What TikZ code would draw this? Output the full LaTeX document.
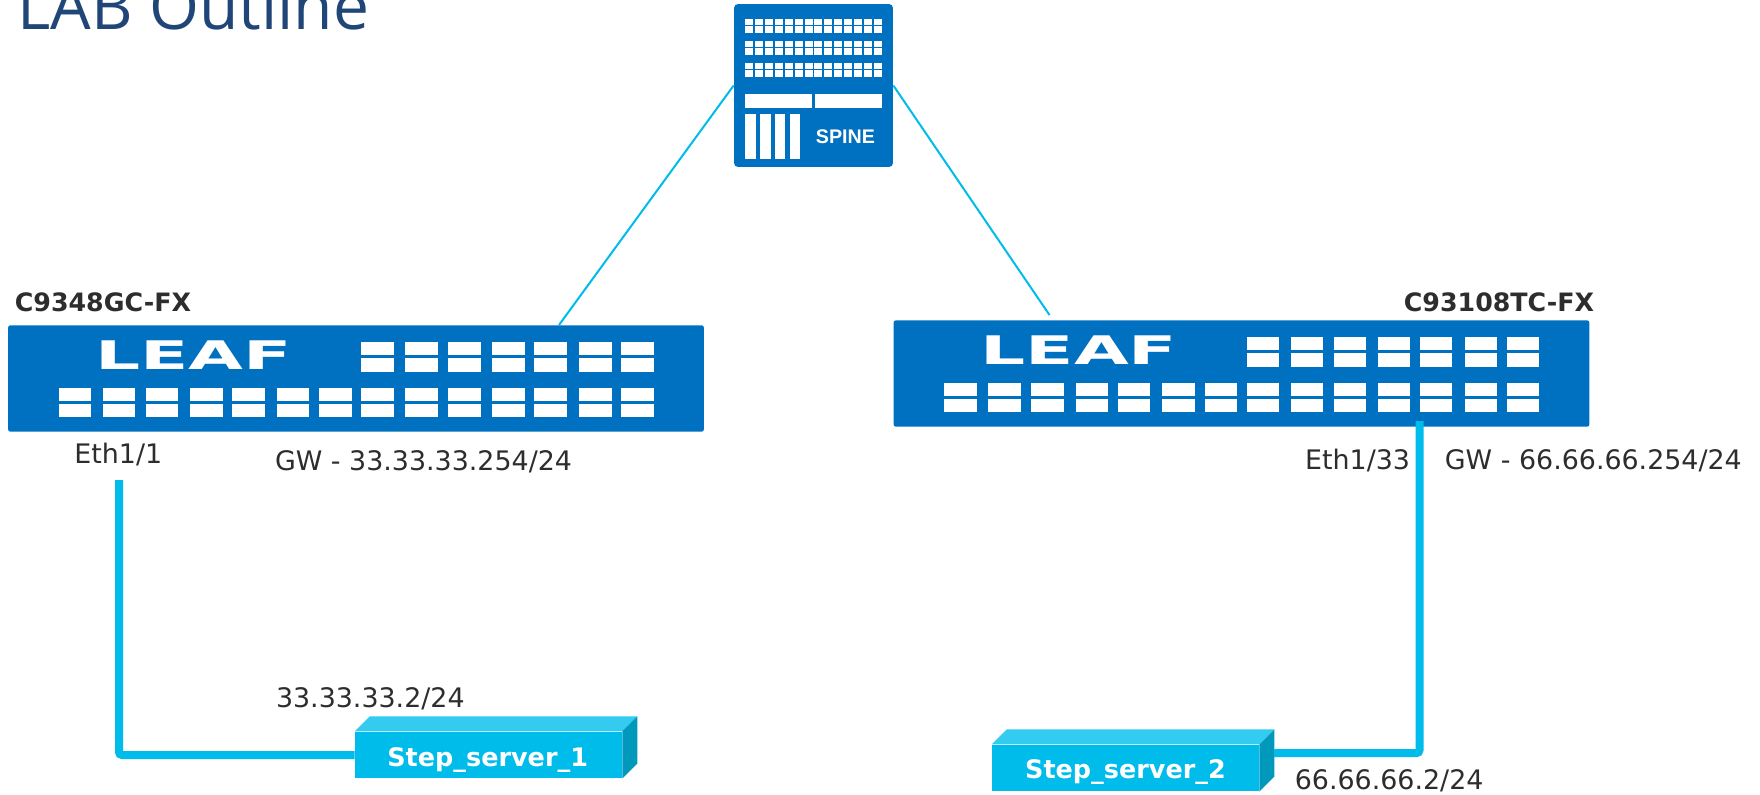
\documentclass[tikz,border=0pt]{standalone}
\usepackage{fontspec}
\usepackage{xcolor}
\setmainfont{DejaVu Sans}
\newfontfamily\titlefont{Open Sans}
\newfontfamily\spinefont{Liberation Sans}

\definecolor{ciscoblue}{HTML}{0070C0}
\definecolor{linkcyan}{HTML}{00BCEB}
\definecolor{servertop}{HTML}{33CBF0}
\definecolor{serverside}{HTML}{0099BC}
\definecolor{titleblue}{HTML}{1F4676}
\definecolor{labelgray}{HTML}{2D2D2D}

\tikzset{
	thinlink/.style={draw=linkcyan, line width=0.04cm},
	thicklink/.style={draw=linkcyan, line width=0.16cm, rounded corners=0.06cm},
	label/.style={anchor=base west, inner sep=0pt, text=labelgray, font=\fontsize{15.3}{18}\selectfont},
	model/.style={anchor=base west, inner sep=0pt, text=labelgray, font=\fontsize{14.4}{18}\selectfont\bfseries},
	leafbox/.style={fill=ciscoblue, inner sep=0pt, rounded corners=0.05cm, minimum width=13.92cm, minimum height=2.13cm},
	serverbox/.style={fill=linkcyan, inner sep=0pt, text=white, minimum width=5.34cm, minimum height=0.93cm, font=\fontsize{14.5}{18}\selectfont\bfseries},
}

\begin{document}
\begin{tikzpicture}[x=0.02cm, y=-0.02cm]
	\useasboundingbox (0, 0) rectangle (1760, 794);

	\node[anchor=base west, inner sep=0pt, text=titleblue, font=\fontsize{36.5}{40}\titlefont] (title) at (17, 30) {LAB Outline};

	% Thin links go under the boxes
	\node[fill=ciscoblue, inner sep=0pt, rounded corners=0.08cm, minimum width=3.18cm, minimum height=3.26cm] (spine) at (813.5, 85.5) {};
	\coordinate (leaf1top) at (559, 325);
	\coordinate (leaf2top) at (1049.5, 315);
	\draw[thinlink] (spine.west) -- (leaf1top);
	\draw[thinlink] (spine.east) -- (leaf2top);

	% Spine ports
	\foreach \y in {18.7, 40.7, 62.7} {
		\foreach \i in {0,...,13} {
			\fill[white] ({745.3+\i*9.87}, \y) rectangle +(8, 6.6);
			\fill[white] ({745.3+\i*9.87}, \y+7.4) rectangle +(8, 6.6);
		}
	}
	\fill[white] (745.3, 94.3) rectangle (812.3, 107.7);
	\fill[white] (815, 94.3) rectangle (882, 107.7);
	\foreach \x in {745.3, 760.3, 775, 790} {
		\fill[white] (\x, 114.3) rectangle +(10.3, 44.4);
	}
	\node[inner sep=0pt, anchor=base, text=white, font=\fontsize{11.2}{12}\spinefont\bfseries] (spinetext) at (845.5, 143) {SPINE};

	% Both leaves are the same box
	\foreach \leaf/\sx/\sy in {leaf1/0/0, leaf2/885.5/-5} {
		\begin{scope}[shift={(\sx, \sy)}]
			\node[leafbox] (\leaf) at (356, 378.5) {};
			\node[inner sep=0pt, anchor=base, text=white, font=\fontsize{22.4}{24}\selectfont\bfseries] (\leaf text) at (193.5, 369.3) {\scalebox{1.8}[1]{LEAF}};
			\foreach \x in {361, 405, 448, 492, 534, 579, 621} {
				\fill[white] (\x, 341.7) rectangle +(32.5, 13);
				\fill[white] (\x, 358.3) rectangle +(32.5, 13.4);
			}
			\foreach \x in {58.8, 102.9, 145.6, 190.2, 232, 276.5, 319.2, 361, 405, 448, 492, 534, 579, 621} {
				\fill[white] (\x, 387.7) rectangle +(32.5, 13);
				\fill[white] (\x, 404) rectangle +(32.5, 13.3);
			}
		\end{scope}
	}

	\node[model] (model1) at (14.5, 311.7) {C9348GC-FX};
	\node[model] (model2) at (1403.5, 311.7) {C93108TC-FX};

	% Servers
	\node[serverbox] (server1) at (488.5, 755) {};
	\node[serverbox] (server2) at (1125.5, 768) {};
	\foreach \server in {server1, server2} {
		\fill[servertop] (\server.north west) -- +(15, -15) -- ([shift={(15, -15)}]\server.north east) -- (\server.north east) -- cycle;
		\fill[serverside] (\server.north east) -- +(15, -15) -- ([shift={(15, -15)}]\server.south east) -- (\server.south east) -- cycle;
	}
	\node[inner sep=0pt, anchor=base, text=white, font=\fontsize{14.5}{18}\selectfont\bfseries] (server1text) at (487.7, 766.2) {Step\_server\_1};
	\node[inner sep=0pt, anchor=base, text=white, font=\fontsize{14.5}{18}\selectfont\bfseries] (server2text) at (1125.5, 778.5) {Step\_server\_2};

	% Access links
	\coordinate (eth1) at (119, 480);
	\coordinate (eth33) at (1419.5, 421);
	\coordinate (server2side) at (1274, 753);
	\draw[thicklink] (eth1) |- (server1.west);
	\draw[thicklink] (eth33) |- (server2side);

	\node[label] (porta) at (74, 463) {Eth1/1};
	\node[label] (gwa) at (274.7, 470.7) {GW - 33.33.33.254/24};
	\node[label] (hosta) at (275.7, 707) {33.33.33.2/24};
	\node[label] (portb) at (1304.8, 469) {Eth1/33};
	\node[label] (gwb) at (1444.5, 469) {GW - 66.66.66.254/24};
	\node[label] (hostb) at (1294.5, 789.5) {66.66.66.2/24};
\end{tikzpicture}
\end{document}
